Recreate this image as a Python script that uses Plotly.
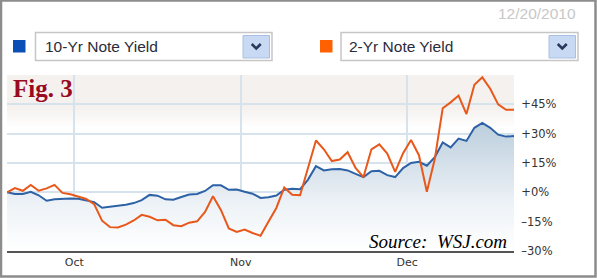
import pandas as pd
import plotly.graph_objects as go

# ---------------- data ----------------
trading_days = [d for d in pd.bdate_range("2010-09-20", "2010-12-20") if d != pd.Timestamp("2010-11-25")]
months = ["Oct", "Nov", "Dec"]
month_numbers = [10, 11, 12]

ten_yr = [0, -0.8, -0.8, 0.3, -1.5, -4.3, -3.5, -3.2, -3.2, -3.3,
          -4.1, -5.0, -7.9, -7.4, -7.1, -6.3, -5.5, -4.0, -1.3, -1.7,
          -3.6, -3.8, -2.4, -1.1, -0.8, 0.7, 3.6, 3.6, 1.3, 1.4,
          0.3, -0.7, -2.9, -2.5, -1.6, 1.3, 1.8, 1.6, 6.5, 13.4,
          11.2, 11.8, 11.9, 11.2, 9.4, 7.8, 10.8, 11.0, 8.8, 7.8,
          12.4, 15.0, 15.6, 13.6, 18.0, 25.5, 23.0, 27.5, 26.3, 33.0,
          35.5, 33.0, 29.5, 28.5, 28.8]
two_yr = [0, 2.2, 0.8, 3.8, 0.8, 2.0, 3.8, -0.3, -1.0, -2.2,
          -3.4, -6.0, -14.5, -17.8, -18.0, -16.5, -14.4, -11.5, -12.5, -14.3,
          -14.0, -16.8, -17.3, -15.5, -14.8, -10.0, -2.0, -9.0, -18.5, -20.3,
          -19.0, -20.8, -22.2, -15.0, -8.0, 2.5, -1.2, -1.5, 13.0, 26.5,
          22.0, 16.0, 16.8, 20.5, 12.5, 7.8, 22.0, 24.5, 19.8, 10.5,
          20.0, 26.8, 19.0, 0.3, 17.0, 43.0, 46.0, 49.5, 40.0, 55.0,
          58.8, 53.0, 45.0, 42.2, 42.2]
y_ticks = [-30, -15, 0, 15, 30, 45]
y_labels = ["\u201330%", "\u201315%", "+0%", "+15%", "+30%", "+45%"]
series_names = ["10-Yr Note Yield", "2-Yr Note Yield"]
as_of = "12/20/2010"

# ---------------- geometry helpers ----------------
W, H = 597, 278
L, R, T, B = 7, 83, 75, 27
PW, PH = W - L - R, H - T - B


def fx(px):
    return (px - L) / PW


def fy(py):
    return 1 - (py - T) / PH


x = list(range(len(trading_days)))
month_bounds = []
for m in month_numbers:
    idx = next(i for i, d in enumerate(trading_days) if d.month == m)
    month_bounds.append(idx - 0.5)

BLUE = "#2d62a6"
ORANGE = "#e8581a"
GRID = "#d6e3ed"

fig = go.Figure()
fig.add_trace(go.Scatter(x=x, y=[y_ticks[0]] * len(x), mode="lines",
                         line=dict(width=0, color="rgba(0,0,0,0)"),
                         hoverinfo="skip", showlegend=False))
fig.add_trace(go.Scatter(x=x, y=ten_yr, mode="lines", name=series_names[0],
                         line=dict(color=BLUE, width=2),
                         fill="tonexty",
                         fillgradient=dict(type="vertical",
                                           colorscale=[[0, "rgba(255,255,255,1)"],
                                                       [0.35, "#eef3f7"],
                                                       [1, "#bccedd"]]),
                         showlegend=False))
fig.add_trace(go.Scatter(x=x, y=two_yr, mode="lines", name=series_names[1],
                         line=dict(color=ORANGE, width=2), showlegend=False))

shapes = []
# beige band at top of plot
shapes.append(dict(type="rect", xref="paper", yref="paper", layer="below",
                   x0=0, x1=1, y0=fy(110), y1=fy(75), line=dict(width=0),
                   fillcolor="#f5f1ee"))
steps = 8
for k in range(steps):
    a = 1 - (k + 1) / (steps + 1)
    shapes.append(dict(type="rect", xref="paper", yref="paper", layer="below",
                       x0=0, x1=1, y0=fy(110 + 2 * (k + 1)), y1=fy(110 + 2 * k),
                       line=dict(width=0),
                       fillcolor=f"rgba(245,241,238,{a:.3f})"))

# frame border
shapes.append(dict(type="rect", xref="paper", yref="paper",
                   x0=fx(1), x1=fx(595.5), y0=fy(276.5), y1=fy(0.5),
                   line=dict(color="#8c8c8c", width=2.5), fillcolor="rgba(0,0,0,0)"))

# legend squares
shapes.append(dict(type="rect", xref="paper", yref="paper",
                   x0=fx(13), x1=fx(25.5), y0=fy(52.5), y1=fy(40),
                   line=dict(width=0), fillcolor="#0a4fb5"))
shapes.append(dict(type="rect", xref="paper", yref="paper",
                   x0=fx(320), x1=fx(332.5), y0=fy(52.5), y1=fy(40),
                   line=dict(width=0), fillcolor="#ff6100"))

# dropdown boxes + buttons + chevrons
for bx0, bx1, btn0, btn1 in [(35.5, 272, 243, 269.5), (341, 578, 549, 575.5)]:
    shapes.append(dict(type="rect", xref="paper", yref="paper",
                       x0=fx(bx0), x1=fx(bx1), y0=fy(60.5), y1=fy(32.5),
                       line=dict(color="#c6c6c6", width=1.5), fillcolor="white"))
    shapes.append(dict(type="rect", xref="paper", yref="paper",
                       x0=fx(btn0), x1=fx(btn1), y0=fy(58), y1=fy(35.5),
                       line=dict(color="#a8bfe3", width=1), fillcolor="#c8d9f4"))
    cx = (btn0 + btn1) / 2
    path = (f"M {fx(cx - 4.5)} {fy(44)} L {fx(cx)} {fy(48.5)} L {fx(cx + 4.5)} {fy(44)}")
    shapes.append(dict(type="path", xref="paper", yref="paper", path=path,
                       line=dict(color="#27385a", width=2.6)))

annotations = [
    dict(text=series_names[0], x=fx(42.5), y=fy(47), xanchor="left", yanchor="middle",
         font=dict(family="Liberation Sans, Arial", size=15.5, color="#2b2b3a")),
    dict(text=series_names[1], x=fx(347), y=fy(47), xanchor="left", yanchor="middle",
         font=dict(family="Liberation Sans, Arial", size=15.5, color="#2b2b3a")),
    dict(text=as_of, x=fx(578), y=fy(13), xanchor="right", yanchor="middle",
         font=dict(family="Liberation Sans, Arial", size=15.5, color="#c8c8c8")),
    dict(text="<b>Fig. 3</b>", x=fx(10.5), y=fy(88), xanchor="left", yanchor="middle",
         font=dict(family="Liberation Serif, Times New Roman", size=25, color="#990a22")),
    dict(text="<i>Source:\u00a0 WSJ.com</i>", x=fx(509), y=fy(241), xanchor="right", yanchor="middle",
         font=dict(family="Liberation Serif, Times New Roman", size=19, color="#000000")),
]
for a in annotations:
    a.update(xref="paper", yref="paper", showarrow=False)

fig.update_layout(
    width=W, height=H,
    margin=dict(l=L, r=R, t=T, b=B, pad=0),
    paper_bgcolor="white", plot_bgcolor="white",
    shapes=shapes, annotations=annotations,
    showlegend=False,
    xaxis=dict(range=[0, len(x) - 1], tickvals=month_bounds, ticktext=months,
               showgrid=True, gridcolor=GRID, gridwidth=1.6,
               showline=True, linecolor="#555555", linewidth=2,
               ticks="", zeroline=False, fixedrange=True,
               tickfont=dict(family="DejaVu Sans", size=11, color="#333333")),
    yaxis=dict(range=[-30, 60], side="right", tickvals=y_ticks, ticktext=y_labels,
               showgrid=True, gridcolor=GRID, gridwidth=1.6,
               showline=False, zeroline=False, fixedrange=True,
               ticks="outside", ticklen=4, tickcolor="rgba(0,0,0,0)",
               tickfont=dict(family="DejaVu Sans", size=11.5, color="#333333")),
)

fig.write_html("out.html")
